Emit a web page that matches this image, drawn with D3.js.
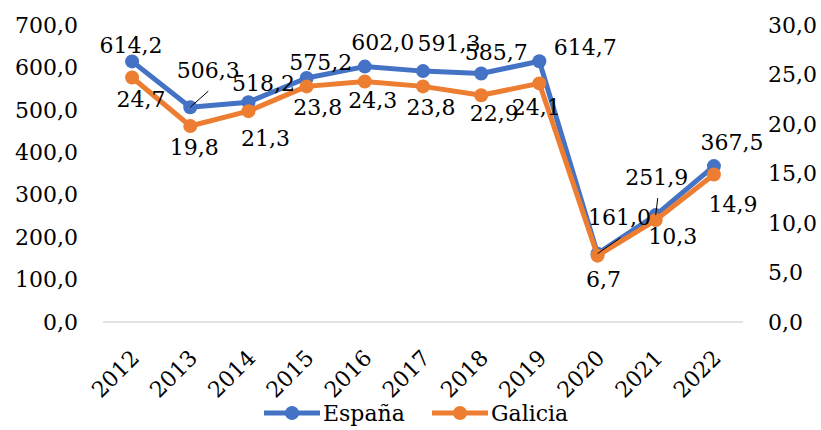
<!DOCTYPE html>
<html>
<head>
<meta charset="utf-8">
<script src="https://cdn.jsdelivr.net/npm/d3@7"></script>
<style>
  body { margin: 0; background: #fff; }
  text { font-family: "DejaVu Serif", "Liberation Serif", serif; fill: #000; }
</style>
</head>
<body>
<div id="chart"></div>
<script>
// Years on the x axis
var years = ["2012", "2013", "2014", "2015", "2016", "2017", "2018", "2019", "2020", "2021", "2022"];

// Series values (left axis: España, right axis: Galicia)
var espana = [614.2, 506.3, 518.2, 575.2, 602.0, 591.3, 585.7, 614.7, 161.0, 251.9, 367.5];
var galicia = [24.7, 19.8, 21.3, 23.8, 24.3, 23.8, 22.9, 24.1, 6.7, 10.3, 14.9];

// Axis ticks
var leftTicks = [0, 100, 200, 300, 400, 500, 600, 700];
var rightTicks = [0, 5, 10, 15, 20, 25, 30];

// Label offsets (dx, dy from point), as placed in the original
var espanaLabelPos = [[-1,-16],[18,-37],[15,-19],[14,-16],[18,-24],[26,-28],[15,-21],[46,-14],[22,-36],[1,-38],[18,-24]];
var galiciaLabelPos = [[9,22],[4,21],[17,27],[11,21],[8,19],[8,21],[13,18],[-3,24],[6,24],[17,16],[19,30]];
// leader lines: index -> end offset
var espanaLeaders = {1: [18,-16], 8: [23,-16], 9: [2,-17]};

var width = 821, height = 430;
var mLeft = 103, mRight = 743, mTop = 25, mBottom = 322;
var fmt = d => d.toFixed(1).replace(".", ",");
var fs = 22;

var svg = d3.select("#chart").append("svg")
  .attr("width", width)
  .attr("height", height);

var x = d3.scaleBand().domain(years).range([mLeft, mRight]);
var yL = d3.scaleLinear().domain([0, 700]).range([mBottom, mTop]);
var yR = d3.scaleLinear().domain([0, 30]).range([mBottom, mTop]);
var cx = d => x(d) + x.bandwidth() / 2;

// baseline
svg.append("line")
  .attr("x1", mLeft).attr("x2", mRight)
  .attr("y1", yL(0)).attr("y2", yL(0))
  .attr("stroke", "#d9d9d9").attr("stroke-width", 1.5);

// left axis labels
svg.append("g").selectAll("text")
  .data(leftTicks).enter().append("text")
  .attr("x", 78).attr("y", d => yL(d))
  .attr("dy", "0.35em")
  .attr("text-anchor", "end")
  .style("font-size", fs + "px")
  .text(fmt);

// right axis labels
svg.append("g").selectAll("text")
  .data(rightTicks).enter().append("text")
  .attr("x", 768).attr("y", d => yR(d))
  .attr("dy", "0.35em")
  .style("font-size", fs + "px")
  .text(fmt);

// x axis labels, rotated
svg.append("g").selectAll("text")
  .data(years).enter().append("text")
  .attr("text-anchor", "end")
  .attr("transform", d => "translate(" + (cx(d) + 3) + "," + 354 + ") rotate(-45)")
  .attr("dy", "0.35em")
  .style("font-size", fs + "px")
  .text(d => d);

function drawSeries(vals, yScale, color) {
  var line = d3.line()
    .x((d, i) => cx(years[i]))
    .y(d => yScale(d));
  svg.append("path")
    .datum(vals)
    .attr("d", line)
    .attr("fill", "none")
    .attr("stroke", color)
    .attr("stroke-width", 5)
    .attr("stroke-linejoin", "round");
  svg.append("g").selectAll("circle")
    .data(vals).enter().append("circle")
    .attr("cx", (d, i) => cx(years[i]))
    .attr("cy", d => yScale(d))
    .attr("r", 7)
    .attr("fill", color);
}

drawSeries(espana, yL, "#4472c4");
drawSeries(galicia, yR, "#ed7d31");

// leader lines
Object.keys(espanaLeaders).forEach(function(k) {
  var i = +k, o = espanaLeaders[k];
  var px = cx(years[i]), py = yL(espana[i]);
  svg.append("line")
    .attr("x1", px).attr("y1", py)
    .attr("x2", px + o[0]).attr("y2", py + o[1])
    .attr("stroke", "#000").attr("stroke-width", 1);
});

// data labels
function drawLabels(vals, yScale, pos) {
  svg.append("g").selectAll("text")
    .data(vals).enter().append("text")
    .attr("x", (d, i) => cx(years[i]) + pos[i][0])
    .attr("y", (d, i) => yScale(d) + pos[i][1])
    .attr("dy", "0.35em")
    .attr("text-anchor", "middle")
    .style("font-size", fs + "px")
    .text(fmt);
}
drawLabels(espana, yL, espanaLabelPos);
drawLabels(galicia, yR, galiciaLabelPos);

// legend
var legendItems = [["España", "#4472c4", 264], ["Galicia", "#ed7d31", 432]];
legendItems.forEach(function(l) {
  var g = svg.append("g").attr("transform", "translate(" + l[2] + ",413)");
  g.append("line").attr("x1", 0).attr("x2", 56).attr("stroke", l[1]).attr("stroke-width", 5);
  g.append("circle").attr("cx", 28).attr("r", 7).attr("fill", l[1]);
  g.append("text").attr("x", 59).attr("dy", "0.35em").style("font-size", fs + "px").text(l[0]);
});
</script>
</body>
</html>
